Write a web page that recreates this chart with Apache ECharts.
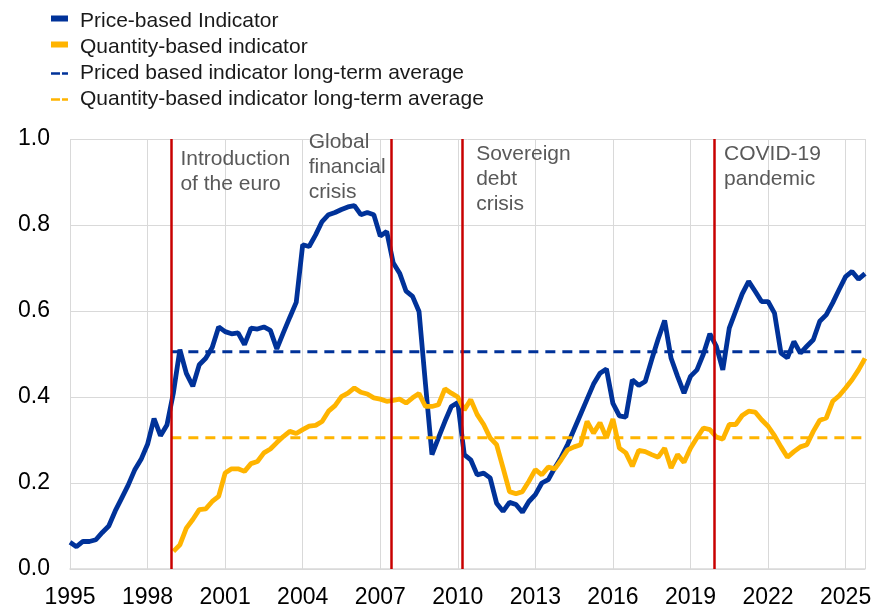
<!DOCTYPE html>
<html>
<head>
<meta charset="utf-8">
<script src="https://cdn.jsdelivr.net/npm/echarts@6/dist/echarts.min.js"></script>
<style>
  html, body { margin: 0; padding: 0; background: #fff; }
  #main { width: 885px; height: 616px; }
</style>
</head>
<body>
<div id="main"></div>
<script>
// quarterly data, first value = Q1 of the start year
var priceStart = 1995;
var priceValues = [
  0.062, 0.052, 0.064, 0.064,
  0.068, 0.085, 0.100, 0.135,
  0.165, 0.195, 0.230, 0.255,
  0.290, 0.350, 0.310, 0.335,
  0.410, 0.510, 0.455, 0.425,
  0.475, 0.490, 0.515, 0.563,
  0.552, 0.547, 0.549, 0.522,
  0.560, 0.558, 0.563, 0.555,
  0.512, 0.549, 0.585, 0.620,
  0.754, 0.750, 0.777, 0.808,
  0.824, 0.829, 0.836, 0.842,
  0.845, 0.824, 0.829, 0.824,
  0.774, 0.785, 0.712, 0.688,
  0.646, 0.634, 0.599, 0.430,
  0.266, 0.305, 0.343, 0.378,
  0.387, 0.266, 0.254, 0.219,
  0.223, 0.212, 0.153, 0.134,
  0.155, 0.150, 0.132, 0.157,
  0.173, 0.200, 0.208, 0.235,
  0.260, 0.290, 0.325, 0.360,
  0.395, 0.430, 0.455, 0.465,
  0.385, 0.356, 0.353, 0.440,
  0.427, 0.436, 0.487, 0.535,
  0.578, 0.490, 0.448, 0.409,
  0.448, 0.463, 0.500, 0.547,
  0.518, 0.463, 0.560, 0.600,
  0.640, 0.669, 0.646, 0.622,
  0.622, 0.595, 0.502, 0.491,
  0.529, 0.502, 0.518, 0.533,
  0.576, 0.591, 0.619, 0.650,
  0.680, 0.692, 0.674, 0.687
];

var quantityStart = 1999;
var quantityValues = [
  0.041, 0.056, 0.095, 0.115,
  0.138, 0.140, 0.157, 0.169,
  0.223, 0.233, 0.233, 0.227,
  0.245, 0.250, 0.270, 0.279,
  0.294, 0.308, 0.320, 0.315,
  0.324, 0.332, 0.334, 0.343,
  0.367, 0.380, 0.401, 0.409,
  0.421, 0.411, 0.407, 0.398,
  0.395, 0.390, 0.392, 0.395,
  0.386, 0.398, 0.408, 0.378,
  0.378, 0.382, 0.419, 0.409,
  0.400, 0.370, 0.394, 0.359,
  0.336, 0.305, 0.289, 0.235,
  0.180, 0.175, 0.180, 0.204,
  0.231, 0.219, 0.237, 0.233,
  0.254, 0.277, 0.284, 0.289,
  0.343, 0.316, 0.340, 0.305,
  0.349, 0.281, 0.270, 0.239,
  0.276, 0.273, 0.266, 0.260,
  0.281, 0.235, 0.266, 0.248,
  0.281, 0.305, 0.328, 0.324,
  0.307, 0.302, 0.336, 0.336,
  0.357, 0.367, 0.365, 0.347,
  0.332, 0.310, 0.284, 0.260,
  0.273, 0.284, 0.289, 0.320,
  0.346, 0.351, 0.390, 0.403,
  0.421, 0.440, 0.463, 0.490
];

var priceAverage = 0.505;
var quantityAverage = 0.305;
var averageSpan = [1998.92, 2025.75];

// red event lines and their notes
var eventYears = [1998.92, 2007.42, 2010.17, 2019.92];
var noteTexts = ['Introduction\nof the euro', 'Global\nfinancial\ncrisis', 'Sovereign\ndebt\ncrisis', 'COVID-19\npandemic'];
var noteYears = [1999.27, 2004.23, 2010.71, 2020.30];
var noteTops = [147, 130, 142, 142];

var names = [
  'Price-based Indicator',
  'Quantity-based indicator',
  'Priced based indicator long-term average',
  'Quantity-based indicator long-term average'
];

var BLUE = '#003299';
var YELLOW = '#ffb400';
var RED = '#c80000';
var FONT = '"Liberation Sans", Arial, sans-serif';

function quarterly(start, values) {
  return values.map(function (v, i) { return [start + i / 4, v]; });
}

var solidIcon = 'path://M0,0H17V6H0Z M0,12H0.01V12.01H0Z';
var dashIcon = 'path://M0,5H9V7.5H0Z M11,5H17V7.5H11Z M0,0H0.01V0.01H0Z M0,12H0.01V12.01H0Z';

var myChart = echarts.init(document.getElementById('main'));

var option = {
  animation: false,
  textStyle: { fontFamily: FONT },
  legend: {
    orient: 'vertical',
    left: 46,
    top: 6,
    itemWidth: 17,
    itemHeight: 12,
    itemGap: 4.9,
    selectedMode: false,
    textStyle: { fontSize: 21, color: '#1a1a1a', fontFamily: FONT, padding: [0, 0, 0, 7] },
    data: [
      { name: names[0], icon: solidIcon },
      { name: names[1], icon: solidIcon },
      { name: names[2], icon: dashIcon },
      { name: names[3], icon: dashIcon }
    ]
  },
  grid: { left: 70, right: 20, top: 139, bottom: 47 },
  xAxis: {
    type: 'value',
    min: 1995,
    max: 2025.75,
    interval: 3,
    axisLine: { lineStyle: { color: '#d9d9d9', width: 1.5 } },
    axisTick: { show: false },
    axisLabel: {
      fontSize: 23,
      color: '#000',
      margin: 17,
      fontFamily: FONT,
      formatter: function (v) { return Number.isInteger(v) ? String(v) : ''; }
    },
    splitLine: { show: true, lineStyle: { color: '#d9d9d9', width: 1 } }
  },
  yAxis: {
    type: 'value',
    min: 0,
    max: 1,
    interval: 0.2,
    axisLine: { show: false },
    axisTick: { show: false },
    axisLabel: {
      fontSize: 23,
      color: '#000',
      margin: 20,
      fontFamily: FONT,
      formatter: function (v) { return v.toFixed(1); }
    },
    splitLine: { show: true, lineStyle: { color: '#d9d9d9', width: 1 } }
  },
  series: [
    {
      name: names[0],
      type: 'line',
      data: quarterly(priceStart, priceValues),
      showSymbol: false,
      symbol: 'none',
      color: BLUE,
      lineStyle: { color: BLUE, width: 4.8 },
      z: 3
    },
    {
      name: names[1],
      type: 'line',
      data: quarterly(quantityStart, quantityValues),
      showSymbol: false,
      symbol: 'none',
      color: YELLOW,
      lineStyle: { color: YELLOW, width: 4.8 },
      z: 3
    },
    {
      name: names[2],
      type: 'line',
      data: averageSpan.map(function (x) { return [x, priceAverage]; }),
      symbol: 'none',
      color: BLUE,
      lineStyle: { color: BLUE, width: 3, type: [10, 7] },
      z: 4
    },
    {
      name: names[3],
      type: 'line',
      data: averageSpan.map(function (x) { return [x, quantityAverage]; }),
      symbol: 'none',
      color: YELLOW,
      lineStyle: { color: YELLOW, width: 3, type: [10, 7] },
      z: 4,
      markLine: {
        silent: true,
        symbol: ['none', 'none'],
        label: { show: false },
        lineStyle: { color: RED, width: 2.5, type: 'solid' },
        data: eventYears.map(function (y) { return { xAxis: y }; }),
        z: 5
      }
    }
  ]
};

myChart.setOption(option);

// notes next to the event lines
var notes = noteTexts.map(function (t, i) {
  return {
    type: 'text',
    x: myChart.convertToPixel({ xAxisIndex: 0 }, noteYears[i]),
    y: noteTops[i],
    silent: true,
    style: {
      text: t,
      fontSize: 21,
      lineHeight: 25,
      fontFamily: FONT,
      fill: '#595959',
      textAlign: 'left',
      textVerticalAlign: 'top'
    }
  };
});
myChart.setOption({ graphic: notes });
</script>
</body>
</html>
